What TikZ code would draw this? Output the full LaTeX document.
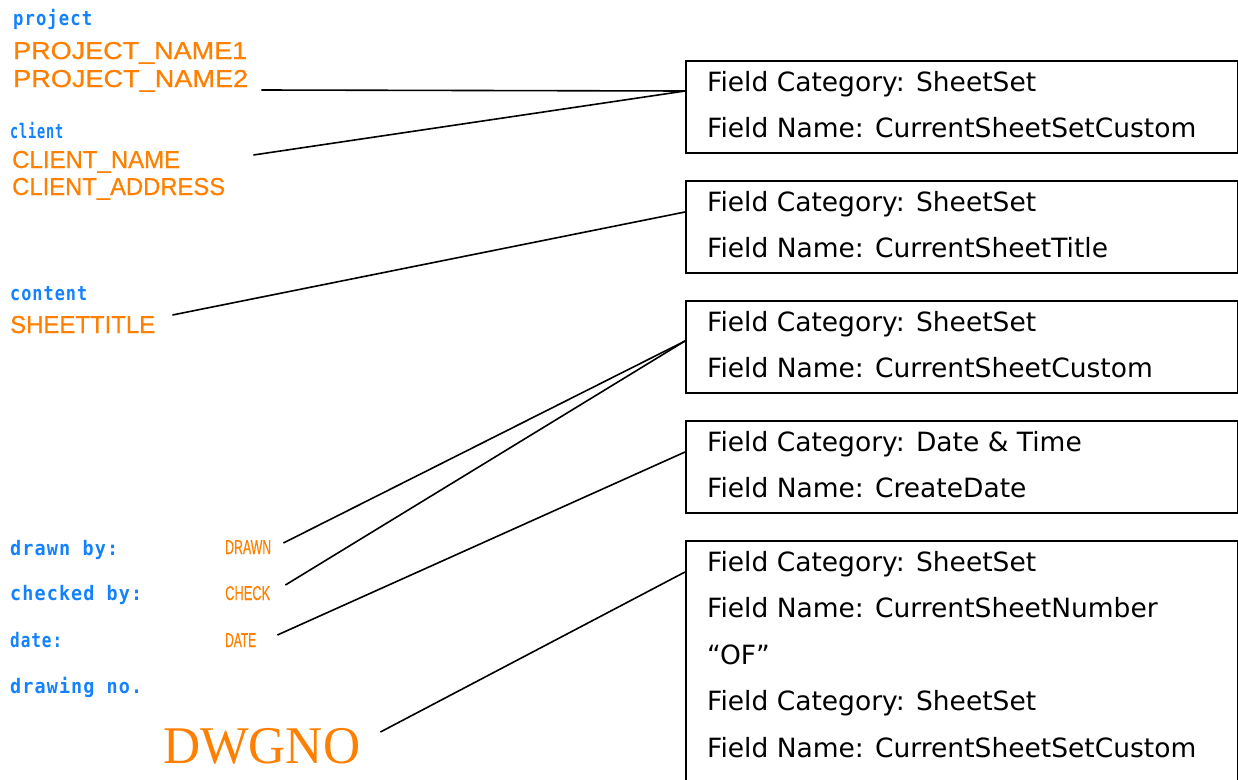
\documentclass[tikz,border=0pt]{standalone}
\usepackage{fontspec}
\usepackage{graphicx}
\usetikzlibrary{calc}
\newfontfamily\boxfont{DejaVu Sans}
\newfontfamily\cadfont[LetterSpace=6]{DejaVu Sans Mono Bold}
\newfontfamily\orfont[FakeBold=0.6]{Liberation Sans}
\newfontfamily\dwgfont{Liberation Serif}
\definecolor{cadblue}{RGB}{20,130,255}
\definecolor{cadorange}{RGB}{255,128,0}
\newcommand{\fitw}[2]{\resizebox{#1pt}{\height}{#2}}
\begin{document}
\begin{tikzpicture}[x=1pt,y=-1pt,
  lbl/.style={anchor=base west, inner sep=0pt, text=cadblue, font=\cadfont\fontsize{20}{20}\selectfont},
  val/.style={anchor=base west, inner sep=0pt, text=cadorange, font=\orfont\fontsize{24.5}{24.5}\selectfont},
  smallval/.style={anchor=base west, inner sep=0pt, text=cadorange, font=\orfont\fontsize{20}{20}\selectfont},
  bigval/.style={anchor=base west, inner sep=0pt, text=cadorange, font=\dwgfont\fontsize{53}{53}\selectfont},
  fbox/.style={draw=black, line width=1.6pt, anchor=north west, minimum width=552pt, minimum height=92pt, inner sep=0pt},
  ftxt/.style={anchor=base west, inner sep=0pt, font=\boxfont\fontsize{26.5}{26.5}\selectfont},
  conn/.style={draw=black, line width=1.6pt}]
\useasboundingbox (0,0) rectangle (1238,779);
\clip (0,0) rectangle (1238,779);
% left column
\node[lbl] (lproj) at (13,25) {\fitw{79}{project}};
\node[val] (pn1) at (13,59) {\fitw{234}{PROJECT\_NAME1}};
\node[val] (pn2) at (13,87) {\fitw{235}{PROJECT\_NAME2}};
\node[lbl] (lcli) at (10,138) {\fitw{53}{client}};
\node[val] (cn) at (12,168) {\fitw{168}{CLIENT\_NAME}};
\node[val] (ca) at (12,195) {\fitw{213}{CLIENT\_ADDRESS}};
\node[lbl] (lcon) at (10,300) {\fitw{77}{content}};
\node[val] (st) at (10,333) {\fitw{145}{SHEETTITLE}};
\node[lbl] (ldr) at (10,555) {\fitw{108}{drawn by:}};
\node[smallval] (dr) at (225,554) {\fitw{46}{DRAWN}};
\node[lbl] (lck) at (10,600) {\fitw{132}{checked by:}};
\node[smallval] (ck) at (225,600) {\fitw{45}{CHECK}};
\node[lbl] (lda) at (10,647) {\fitw{52}{date:}};
\node[smallval] (da) at (225,647) {\fitw{31}{DATE}};
\node[lbl] (ldn) at (10,693) {\fitw{132}{drawing no.}};
\node[bigval] (dwg) at (163,763) {\fitw{197}{DWGNO}};
% boxes
\node[fbox] (b1) at (685,60) {};
\node[fbox] (b2) at (685,180) {};
\node[fbox] (b3) at (685,300) {};
\node[fbox] (b4) at (685,420) {};
\node[fbox, minimum height=300pt] (b5) at (685,540) {};
\node[ftxt] (b1a) at (707,91) {Field Category: SheetSet};
\node[ftxt] (b1b) at (707,137) {Field Name: CurrentSheetSetCustom};
\node[ftxt] (b2a) at (707,211) {Field Category: SheetSet};
\node[ftxt] (b2b) at (707,257) {Field Name: CurrentSheetTitle};
\node[ftxt] (b3a) at (707,331) {Field Category: SheetSet};
\node[ftxt] (b3b) at (707,377) {Field Name: CurrentSheetCustom};
\node[ftxt] (b4a) at (707,451) {Field Category: Date \& Time};
\node[ftxt] (b4b) at (707,497) {Field Name: CreateDate};
\node[ftxt] (b5a) at (707,571) {Field Category: SheetSet};
\node[ftxt] (b5b) at (707,617.5) {Field Name: CurrentSheetNumber};
\node[ftxt] (b5c) at (707,664) {“OF”};
\node[ftxt] (b5d) at (707,710.5) {Field Category: SheetSet};
\node[ftxt] (b5e) at (707,757) {Field Name: CurrentSheetSetCustom};
% connectors
\draw[conn] ($(pn2.base east)+(13,3)$) -- ($(b1.north west)+(0,31)$);
\draw[conn] ($(cn.base east)+(73,-13)$) -- ($(b1.north west)+(0,31)$);
\draw[conn] ($(st.base east)+(17,-18)$) -- ($(b2.north west)+(0,32)$);
\draw[conn] ($(dr.base east)+(12,-11)$) -- ($(b3.north west)+(0,41)$);
\draw[conn] ($(ck.base east)+(15,-15)$) -- ($(b3.north west)+(0,41)$);
\draw[conn] ($(da.base east)+(21,-12)$) -- ($(b4.north west)+(0,32)$);
\draw[conn] ($(dwg.base east)+(20,-31)$) -- ($(b5.north west)+(0,32)$);
\end{tikzpicture}
\end{document}
